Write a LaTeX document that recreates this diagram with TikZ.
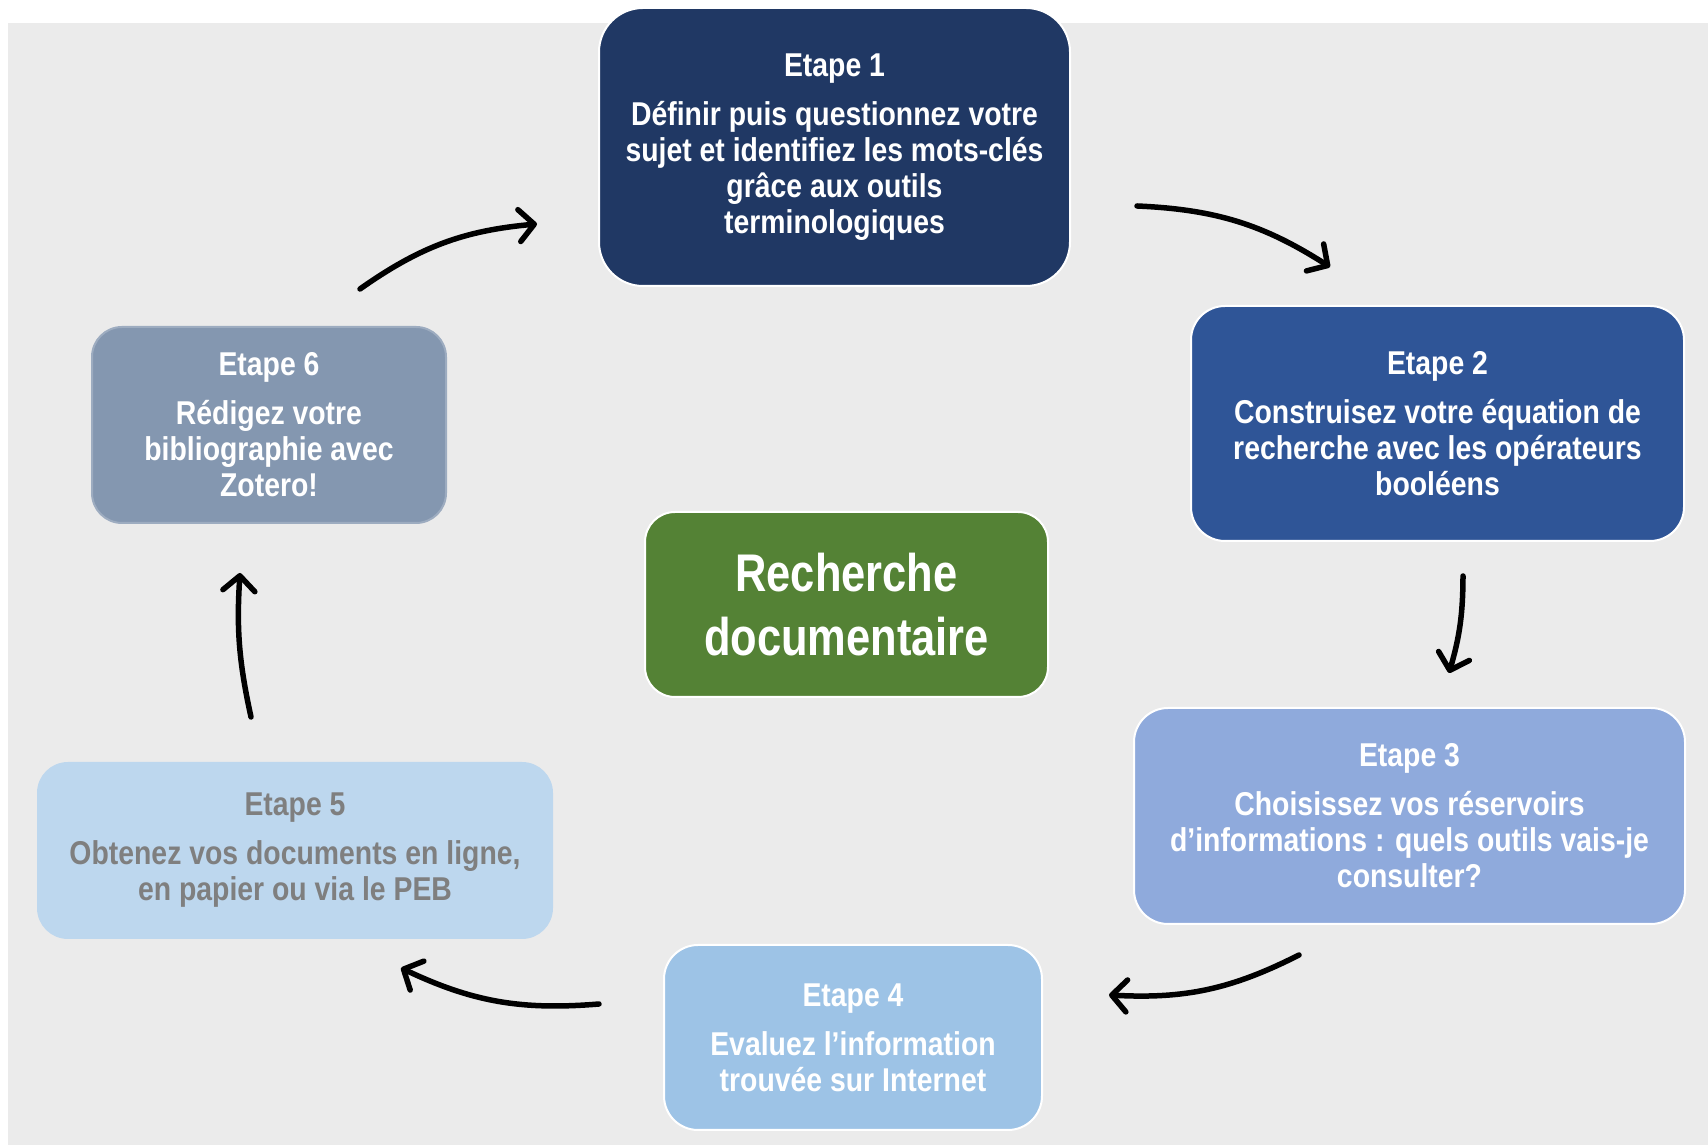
\documentclass[tikz,border=0pt]{standalone}
\usepackage{fontspec}
\setmainfont{Liberation Sans}[FakeStretch=0.82]
\newfontfamily\boxfont{Liberation Sans}[FakeStretch=0.86]
\usetikzlibrary{arrows.meta}

\definecolor{bggray}{HTML}{EBEBEB}
\definecolor{etapeA}{HTML}{203864}
\definecolor{etapeB}{HTML}{2F5597}
\definecolor{etapeC}{HTML}{8FAADC}
\definecolor{etapeD}{HTML}{9DC3E6}
\definecolor{etapeE}{HTML}{BDD7EE}
\definecolor{etapeF}{HTML}{8497B0}
\definecolor{centre}{HTML}{548235}
\definecolor{greytext}{HTML}{7F7F7F}

\begin{document}
\begin{tikzpicture}[x=1pt,y=1pt,inner sep=0pt,outer sep=0pt,
stepbox/.style={draw=white,line width=2pt,rectangle,rounded corners=34pt,align=center,text=white,font=\boxfont\fontsize{33}{36}\selectfont\bfseries},
flow/.style={-{Straight Barb[length=15pt,width=32pt,round]},line width=5.5pt,line cap=round}]

\useasboundingbox (0,0) rectangle (1708,1145);
\fill[bggray] (8,0) rectangle (1708,1122);

\draw (834.5,998) node[stepbox,fill=etapeA,rounded corners=44pt,minimum width=471pt,minimum height=278pt] (e1) {Etape 1\\[13pt]D\'efinir puis questionnez votre\\sujet et identifiez les mots-cl\'es\\gr\^ace aux outils\\terminologiques};
\draw (1437.5,721.5) node[stepbox,fill=etapeB,minimum width=493pt,minimum height=235pt] (e2) {Etape 2\\[13pt]Construisez votre \'equation de\\recherche avec les op\'erateurs\\bool\'eens};
\draw (1409.5,329) node[stepbox,fill=etapeC,minimum width=551pt,minimum height=216pt] (e3) {Etape 3\\[13pt]Choisissez vos r\'eservoirs\\d’informations : quels outils vais-je\\consulter?};
\draw (853,107.5) node[stepbox,fill=etapeD,minimum width=378pt,minimum height=185pt] (e4) {Etape 4\\[13pt]Evaluez l’information\\trouv\'ee sur Internet};
\draw (295,294.5) node[stepbox,draw=etapeE,fill=etapeE,text=greytext,rounded corners=30pt,minimum width=514pt,minimum height=175pt] (e5) {Etape 5\\[13pt]Obtenez vos documents en ligne,\\en papier ou via le PEB};
\draw (269,720) node[stepbox,draw=etapeF!80!white,fill=etapeF,rounded corners=30pt,minimum width=354pt,minimum height=196pt] (e6) {Etape 6\\[13pt]R\'edigez votre\\bibliographie avec\\Zotero!};
\draw (846.5,540.5) node[stepbox,fill=centre,rounded corners=30pt,minimum width=403pt,minimum height=185pt,font=\fontsize{53}{64}\selectfont\bfseries] (rd) {Recherche\\documentaire};

% arrow ends
\coordinate (a1s) at (360,856);
\coordinate (a1e) at (537,921);
\coordinate (a2s) at (1137,939);
\coordinate (a2e) at (1330,878);
\coordinate (a3s) at (1463,569);
\coordinate (a3e) at (1449,472);
\coordinate (a4s) at (1299,190);
\coordinate (a4e) at (1109,150);
\coordinate (a5s) at (599,141);
\coordinate (a5e) at (401,177);
\coordinate (a6s) at (251,428);
\coordinate (a6e) at (240,572);

\draw[flow] (a1s) to[bend left=15] (a1e);
\draw[flow] (a2s) to[bend left=15] (a2e);
\draw[flow] (a3s) to[bend left=8] (a3e);
\draw[flow] (a4s) to[bend left=15] (a4e);
\draw[flow] (a5s) to[bend left=15] (a5e);
\draw[flow] (a6s) to[bend left=8] (a6e);
\end{tikzpicture}
\end{document}
